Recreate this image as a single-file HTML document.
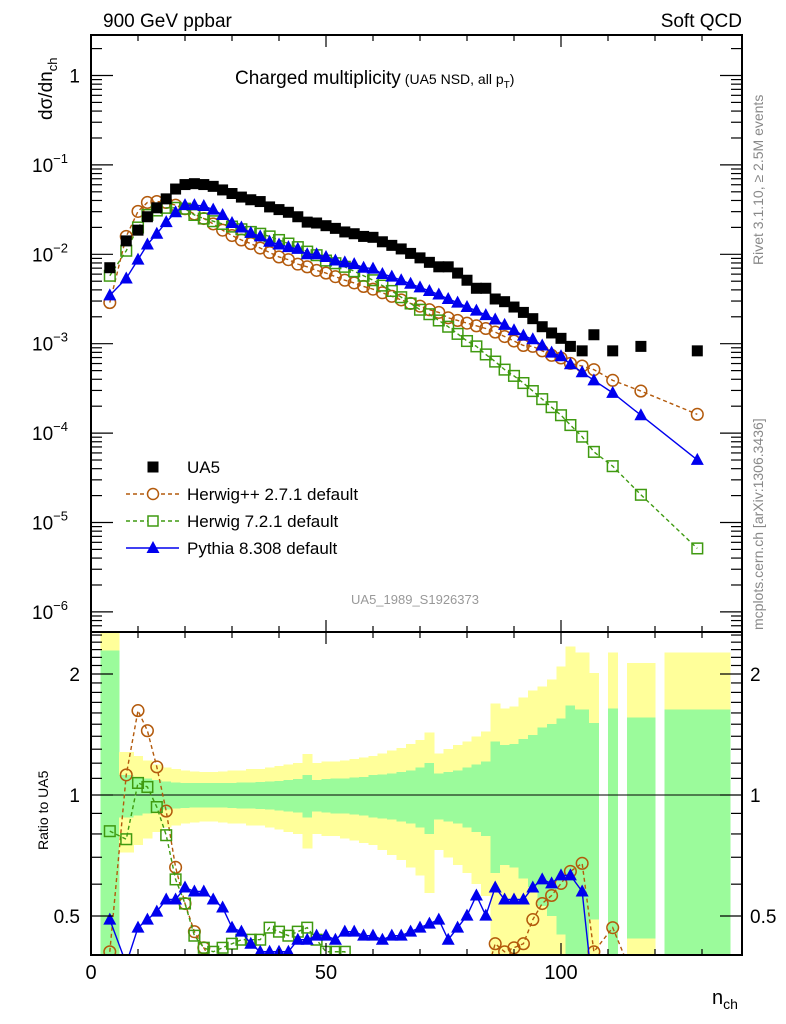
<!DOCTYPE html>
<html><head><meta charset="utf-8"><style>
html,body{margin:0;padding:0;background:#fff;width:786px;height:1024px;overflow:hidden;}
svg{display:block;font-family:"Liberation Sans",sans-serif;}
</style></head><body>
<svg id="chart" width="786" height="1024" viewBox="0 0 786 1024" xmlns="http://www.w3.org/2000/svg">
<defs>
<clipPath id="clipMain"><rect x="91" y="35" width="651" height="597"/></clipPath>
<clipPath id="clipRatio"><rect x="91" y="632" width="651" height="323"/></clipPath>
</defs>
<g id="bands" clip-path="url(#clipRatio)" shape-rendering="crispEdges"></g>
<g id="ratioLayer" clip-path="url(#clipRatio)"></g>
<g id="mainLayer" clip-path="url(#clipMain)"></g>
<g id="axes"></g>
<text x="103" y="27" font-size="19">900 GeV ppbar</text>
<text x="742" y="27" font-size="19" text-anchor="end">Soft QCD</text>
<text x="235" y="84" font-size="19">Charged multiplicity<tspan font-size="14" dx="4">(UA5 NSD, all p</tspan><tspan font-size="10" dy="4">T</tspan><tspan font-size="14" dy="-4">)</tspan></text>
<text transform="translate(52,120) rotate(-90)" font-size="19">dσ/dn<tspan font-size="13" dy="5">ch</tspan></text>
<text transform="translate(48,850) rotate(-90)" font-size="14">Ratio to UA5</text>
<text transform="translate(763,265) rotate(-90)" font-size="14" fill="#888">Rivet 3.1.10, ≥ 2.5M events</text>
<text transform="translate(763,630) rotate(-90)" font-size="14" fill="#888">mcplots.cern.ch [arXiv:1306.3436]</text>
<text x="415" y="604" font-size="13" fill="#999" text-anchor="middle">UA5_1989_S1926373</text>
<text x="712" y="1004" font-size="20">n<tspan font-size="14" dy="5">ch</tspan></text>
<g id="legend"></g>
</svg>
<script>
const nch = [4,7.5,10,12,14,16,18,20,22,24,26,28,30,32,34,36,38,40,42,44,46,48,50,52,54,56,58,60,62,64,66,68,70,72,74,76,78,80,82,84,86,88,90,92,94,96,98,100,102,104.5,107,111,117,129];
const binLo = [2,6,9,11,13,15,17,19,21,23,25,27,29,31,33,35,37,39,41,43,45,47,49,51,53,55,57,59,61,63,65,67,69,71,73,75,77,79,81,83,85,87,89,91,93,95,97,99,101,103,106,110,114,122];
const binHi = [6,9,11,13,15,17,19,21,23,25,27,29,31,33,35,37,39,41,43,45,47,49,51,53,55,57,59,61,63,65,67,69,71,73,75,77,79,81,83,85,87,89,91,93,95,97,99,101,103,106,108,112,120,136];
const ua5Log = [-2.15,-1.85,-1.73,-1.58,-1.48,-1.38,-1.27,-1.22,-1.21,-1.22,-1.24,-1.28,-1.32,-1.36,-1.39,-1.41,-1.47,-1.50,-1.53,-1.58,-1.64,-1.65,-1.68,-1.71,-1.75,-1.77,-1.80,-1.81,-1.86,-1.90,-1.94,-1.99,-2.04,-2.09,-2.14,-2.14,-2.21,-2.29,-2.38,-2.38,-2.50,-2.53,-2.59,-2.65,-2.72,-2.81,-2.88,-2.94,-3.03,-3.08,-2.90,-3.08,-3.03,-3.08];
const hwppLog = [-2.54,-1.80,-1.52,-1.42,-1.41,-1.42,-1.45,-1.49,-1.55,-1.60,-1.66,-1.73,-1.79,-1.84,-1.88,-1.93,-1.98,-2.03,-2.06,-2.11,-2.14,-2.18,-2.21,-2.25,-2.29,-2.32,-2.36,-2.39,-2.43,-2.47,-2.51,-2.55,-2.58,-2.62,-2.65,-2.71,-2.74,-2.77,-2.80,-2.83,-2.87,-2.92,-2.97,-3.02,-3.03,-3.08,-3.13,-3.16,-3.22,-3.25,-3.29,-3.41,-3.53,-3.79];
const hw7Log = [-2.24,-1.96,-1.70,-1.56,-1.51,-1.48,-1.48,-1.49,-1.56,-1.60,-1.63,-1.66,-1.69,-1.72,-1.75,-1.77,-1.80,-1.84,-1.88,-1.92,-1.97,-2.01,-2.07,-2.10,-2.14,-2.19,-2.24,-2.29,-2.35,-2.41,-2.48,-2.55,-2.62,-2.67,-2.74,-2.81,-2.89,-2.97,-3.03,-3.12,-3.20,-3.29,-3.36,-3.44,-3.53,-3.62,-3.71,-3.80,-3.91,-4.04,-4.21,-4.37,-4.69,-5.29];
const pyLog = [-2.46,-2.27,-2.06,-1.89,-1.77,-1.64,-1.53,-1.45,-1.45,-1.46,-1.50,-1.56,-1.65,-1.70,-1.76,-1.80,-1.86,-1.89,-1.92,-1.94,-2.00,-2.00,-2.03,-2.07,-2.09,-2.11,-2.15,-2.16,-2.22,-2.25,-2.29,-2.33,-2.37,-2.41,-2.45,-2.50,-2.54,-2.59,-2.63,-2.68,-2.73,-2.79,-2.85,-2.91,-2.95,-3.02,-3.10,-3.14,-3.23,-3.32,-3.41,-3.55,-3.80,-4.30];
const errStat = [1.29,0.12,0.11,0.10,0.09,0.08,0.075,0.072,0.07,0.07,0.07,0.07,0.072,0.074,0.075,0.078,0.08,0.085,0.09,0.095,0.12,0.09,0.095,0.10,0.10,0.105,0.11,0.12,0.125,0.13,0.14,0.15,0.17,0.20,0.13,0.14,0.15,0.17,0.19,0.21,0.36,0.33,0.34,0.38,0.41,0.47,0.50,0.55,0.67,0.63,0.51,0.64,0.56,0.63];
const errTot = [1.6,0.28,0.25,0.22,0.19,0.17,0.16,0.15,0.145,0.14,0.14,0.145,0.15,0.15,0.16,0.16,0.17,0.18,0.19,0.20,0.265,0.20,0.21,0.21,0.22,0.23,0.24,0.25,0.27,0.29,0.31,0.34,0.37,0.43,0.27,0.30,0.33,0.36,0.40,0.44,0.69,0.64,0.66,0.75,0.82,0.86,0.94,1.09,1.34,1.26,1.01,1.26,1.13,1.26];
const xTicksMajor = [0,50,100];
const yDecades = [0,-1,-2,-3,-4,-5,-6];
const ratioLabels = [0.5,1,2];

const NS="http://www.w3.org/2000/svg";
const X0=91, X1=742, XMAX=(X1-X0)/4.7;
function sx(v){return X0+v*4.7;}
function syMain(lg){return 75.5-89.4*lg;}
function syRatio(r){return 795-121*Math.log2(r);}
function mk(tag,attrs,parent){const e=document.createElementNS(NS,tag);for(const k in attrs)e.setAttribute(k,attrs[k]);parent.appendChild(e);return e;}

const bands=document.getElementById('bands');
for(let i=0;i<nch.length;i++){
  const x=sx(binLo[i]), w=sx(binHi[i])-x+0.5;
  const lt=Math.max(1-errTot[i],0.3), ls=Math.max(1-errStat[i],0.3);
  const y1=mk('rect',{x:x,y:syRatio(1+errTot[i]),width:w,height:syRatio(lt)-syRatio(1+errTot[i]),fill:'#ffff9a'},bands);
  
  
  const g1=mk('rect',{x:x,y:syRatio(1+errStat[i]),width:w,height:syRatio(ls)-syRatio(1+errStat[i]),fill:'#9bfb9b'},bands);
  
  
}
mk('line',{x1:X0,x2:X1,y1:syRatio(1),y2:syRatio(1),stroke:'#000','stroke-width':1.3},bands);

function series(layer,ys,color,dash,marker,name){
  const g=mk('g',{},layer);
  
  
  const pts=ys.map((y,i)=>[sx(nch[i]),y]);
  if(color!=='#000'){
    const p=mk('polyline',{points:pts.map(p=>p.join(',')).join(' '),fill:'none',stroke:color,'stroke-width':1.4},g);
    if(dash)p.setAttribute('stroke-dasharray',dash);
  }
  pts.forEach(([x,y])=>{
    let m;
    if(marker==='sq') m=mk('rect',{x:x-5.5,y:y-5.5,width:11,height:11,fill:'#000'},g);
    else if(marker==='circ') m=mk('circle',{cx:x,cy:y,r:5.8,fill:'none',stroke:color,'stroke-width':1.5},g);
    else if(marker==='osq') m=mk('rect',{x:x-5.3,y:y-5.3,width:10.6,height:10.6,fill:'none',stroke:color,'stroke-width':1.5},g);
    else m=mk('polygon',{points:`${x},${y-7} ${x-6.5},${y+5} ${x+6.5},${y+5}`,fill:color},g);
    
    
  });
}
const mainL=document.getElementById('mainLayer');
series(mainL,hwppLog.map(syMain),'#b35a0c','4,3','circ','herwigpp-series');
series(mainL,hw7Log.map(syMain),'#3f9a10','4,3','osq','herwig7-series');
series(mainL,pyLog.map(syMain),'#0000ee',null,'tri','pythia-series');
series(mainL,ua5Log.map(syMain),'#000',null,'sq','ua5-series');
const ratL=document.getElementById('ratioLayer');
const rat=a=>a.map((v,i)=>syRatio(Math.pow(10,v-ua5Log[i])));
series(ratL,rat(hwppLog),'#b35a0c','4,3','circ','herwigpp-ratio');
series(ratL,rat(hw7Log),'#3f9a10','4,3','osq','herwig7-ratio');
series(ratL,rat(pyLog),'#0000ee',null,'tri','pythia-ratio');

const ax=document.getElementById('axes');
const st={stroke:'#000','stroke-width':1.2};
mk('rect',{x:X0,y:35,width:X1-X0,height:920,fill:'none',stroke:'#000','stroke-width':2},ax);
mk('line',{x1:X0,x2:X1,y1:632,y2:632,stroke:'#000','stroke-width':2},ax);
for(let v=0;v<=XMAX;v+=10){
  const x=sx(v), L=(v%50===0)?12:6;
  [35,632].forEach(y=>mk('line',Object.assign({x1:x,x2:x,y1:y,y2:y+L},st),ax));
  [632,955].forEach(y=>mk('line',Object.assign({x1:x,x2:x,y1:y,y2:y-L},st),ax));
}
xTicksMajor.forEach(v=>{const t=mk('text',{x:sx(v),y:979,'font-size':20,'text-anchor':'middle'},ax);t.textContent=v;

});
for(let d=-7;d<=0;d++){
  for(let k=1;k<10;k++){
    const y=syMain(d+Math.log10(k)); if(y<35||y>632)continue;
    const L=k===1?22:11;
    mk('line',Object.assign({x1:X0,x2:X0+L,y1:y,y2:y},st),ax);
    mk('line',Object.assign({x1:X1,x2:X1-L,y1:y,y2:y},st),ax);
  }
}
yDecades.forEach(d=>{
  const t=mk('text',{x:d===0?80:82,y:syMain(d)+7,'font-size':19,'text-anchor':'end'},ax);
  
  
  if(d===0){t.textContent='1';}
  else{t.textContent='10';const s=document.createElementNS(NS,'tspan');s.setAttribute('font-size','13');s.setAttribute('dy','-9');s.textContent='\u2212'+(-d);t.appendChild(s);t.setAttribute('x',82-14);}
});
for(let r=0.4;r<2.55;r+=0.1){
  const rr=Math.round(r*10)/10,y=syRatio(rr);
  const L=(rr===0.5||rr===1||rr===2)?22:11;
  mk('line',Object.assign({x1:X0,x2:X0+L,y1:y,y2:y},st),ax);
  mk('line',Object.assign({x1:X1,x2:X1-L,y1:y,y2:y},st),ax);
}
ratioLabels.forEach(r=>{
  const a=mk('text',{x:80,y:syRatio(r)+7,'font-size':19,'text-anchor':'end'},ax);a.textContent=r;
  
  
  const b=mk('text',{x:750,y:syRatio(r)+7,'font-size':19},ax);b.textContent=r;
  
  
});

const lg=document.getElementById('legend');
const items=[['UA5','#000',null,'sq'],['Herwig++ 2.7.1 default','#b35a0c','4,3','circ'],['Herwig 7.2.1 default','#3f9a10','4,3','osq'],['Pythia 8.308 default','#0000ee',null,'tri']];
items.forEach((it,i)=>{
  const y=467+27*i, x=153;
  const g=mk('g',{},lg);
  
  
  if(it[3]!=='sq'){const l=mk('line',{x1:126,x2:179,y1:y,y2:y,stroke:it[1],'stroke-width':1.4},g);if(it[2])l.setAttribute('stroke-dasharray',it[2]);}
  if(it[3]==='sq')mk('rect',{x:x-5.5,y:y-5.5,width:11,height:11,fill:'#000'},g);
  else if(it[3]==='circ')mk('circle',{cx:x,cy:y,r:5.5,fill:'#fff',stroke:it[1],'stroke-width':1.5},g);
  else if(it[3]==='osq')mk('rect',{x:x-5,y:y-5,width:10,height:10,fill:'#fff',stroke:it[1],'stroke-width':1.5},g);
  else mk('polygon',{points:`${x},${y-7} ${x-6.5},${y+5} ${x+6.5},${y+5}`,fill:it[1]},g);
  const t=mk('text',{x:187,y:y+6,'font-size':17},g);t.textContent=it[0];
});
</script>
</body></html>
